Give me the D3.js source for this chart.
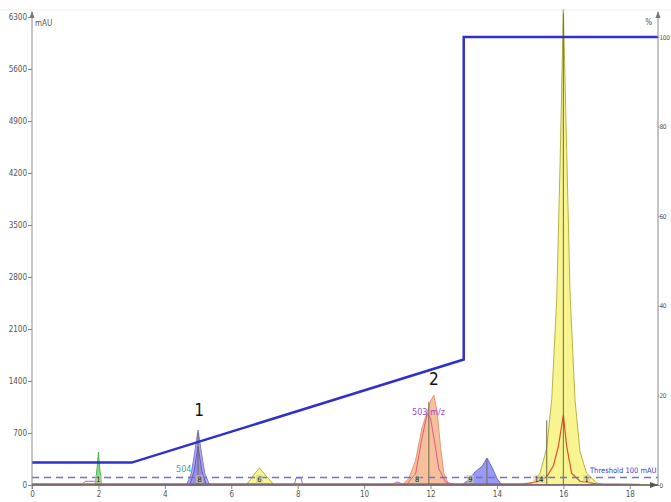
<!DOCTYPE html>
<html>
<head>
<meta charset="utf-8">
<script src="https://cdn.jsdelivr.net/npm/d3@7"></script>
<style>
  body { margin: 0; background: #fff; }
  svg { display: block; }
  text { font-family: "DejaVu Sans Condensed", "DejaVu Sans", sans-serif; }
</style>
</head>
<body>
<svg id="chart" width="671" height="502"></svg>
<script>
// Axis ticks
const timeTicks = [0, 2, 4, 6, 8, 10, 12, 14, 16, 18];
const mauTicks = [0, 700, 1400, 2100, 2800, 3500, 4200, 4900, 5600, 6300];
const pctTicks = [0, 20, 40, 60, 80, 100];

// Gradient programme (time in min, % B)
const gradTime = [0, 3, 13, 13, 18.85];
const gradPct  = [5, 5, 28, 100, 100];

// UV traces: [time, mAU]
const yellowTrace = [[0,0],[6.45,0],[6.65,120],[6.85,230],[7.05,120],[7.3,0],[14.9,0],[15.1,40],[15.3,160],[15.5,500],[15.65,1150],[15.8,2500],[15.9,4300],[16.0,6400],[16.1,4500],[16.2,2600],[16.35,1150],[16.5,450],[16.7,160],[17.0,30],[17.3,0],[18.85,0]];
const lavenderTrace = [[4.65,0],[4.8,160],[4.9,440],[5.0,740],[5.1,440],[5.2,160],[5.35,0]];
const violetTrace = [[4.75,0],[4.88,180],[5.0,520],[5.12,180],[5.25,0]];
const greenTrace = [[1.9,0],[1.96,220],[2.0,444],[2.04,220],[2.1,0]];
const orangeTrace = [[11.15,0],[11.35,90],[11.55,330],[11.75,780],[11.9,980],[12.0,1130],[12.1,1210],[12.2,980],[12.3,520],[12.4,160],[12.55,0]];
const blueTrace = [[12.95,0],[13.15,70],[13.35,180],[13.55,250],[13.7,363],[13.85,240],[14.0,90],[14.15,0]];
const pinkLine = [[11.3,20],[11.55,150],[11.75,650],[11.9,960],[12.0,900],[12.1,640],[12.25,220],[12.45,40],[12.7,10]];
const redLine = [[0,15],[14.8,15],[15.2,40],[15.5,110],[15.7,260],[15.85,520],[16.0,942],[16.1,520],[16.25,160],[16.5,50],[17.0,15],[18.3,10]];
const msLine = [[0,5],[1.5,5],[1.6,50],[1.95,50],[2.0,5],[7.9,5],[7.95,95],[8.1,95],[8.15,5],[10.8,5],[11.0,40],[11.2,5],[18.3,5]];

// Fraction cut lines [time, top mAU] and labels [time, text]
const cutLines = [[5.0, 700], [11.95, 1120], [13.7, 350], [15.5, 870], [16.0, 6350]];
const fracLabels = [[2.0, "1"], [5.05, "8"], [6.85, "6"], [11.6, "8"], [13.2, "9"], [15.2, "14"], [16.7, "1"]];

const threshold = 100;

const svg = d3.select("#chart");
const x = d3.scaleLinear().domain([0, 18.85]).range([32, 658]);
const yL = d3.scaleLinear().domain([0, 6300]).range([485, 17]);
const yR = d3.scaleLinear().domain([0, 100]).range([485, 37]);

// faint frame line at top
svg.append("line").attr("x1", 0).attr("x2", 671).attr("y1", 10).attr("y2", 10)
  .attr("stroke", "#f0efe6").attr("stroke-width", 1);

const area = d3.area().x(d => x(d[0])).y0(yL(0)).y1(d => yL(d[1]));
const line = d3.line().x(d => x(d[0])).y(d => yL(d[1]));

function fillPeak(data, fill, stroke, op) {
  svg.append("path").datum(data).attr("d", area)
    .attr("fill", fill).attr("fill-opacity", op).attr("stroke", stroke).attr("stroke-width", 1);
}
fillPeak(yellowTrace, "#f7f27c", "#b9b24a", 0.85);
fillPeak(lavenderTrace, "#a3a3f2", "#7b7bd8", 0.9);
fillPeak(violetTrace, "#8f78da", "#6d55c0", 0.6);
fillPeak(greenTrace, "#7edc7e", "#4cb44c", 0.9);
fillPeak(orangeTrace, "#f7b892", "#e49a6e", 0.9);
fillPeak(blueTrace, "#8e8ef0", "#6a6ad8", 0.9);

svg.append("path").datum(pinkLine).attr("d", line).attr("fill", "none").attr("stroke", "#d8607a").attr("stroke-width", 1);
svg.append("path").datum(redLine).attr("d", line).attr("fill", "none").attr("stroke", "#d9552a").attr("stroke-width", 1.2);
svg.append("path").datum(msLine).attr("d", line).attr("fill", "none").attr("stroke", "#b060d8").attr("stroke-width", 1);

// fraction cut lines
svg.selectAll(".cut").data(cutLines).join("line")
  .attr("x1", d => x(d[0])).attr("x2", d => x(d[0]))
  .attr("y1", yL(0)).attr("y2", d => yL(d[1]))
  .attr("stroke", "#6b6b4a").attr("stroke-width", 1);

// threshold
svg.append("line").attr("x1", x(0)).attr("x2", x(18.85))
  .attr("y1", yL(threshold)).attr("y2", yL(threshold))
  .attr("stroke", "#7070dc").attr("stroke-width", 1.5).attr("stroke-dasharray", "7,5");
svg.append("text").attr("x", 590).attr("y", yL(threshold) - 5)
  .attr("font-size", 7.5).attr("fill", "#3a3ad0")
  .text("Threshold 100 mAU");

// gradient programme
svg.append("path").datum(d3.zip(gradTime, gradPct))
  .attr("d", d3.line().x(d => x(d[0])).y(d => yR(d[1])))
  .attr("fill", "none").attr("stroke", "#2f2fcf").attr("stroke-width", 2.5);

// fraction labels
const fl = svg.selectAll(".fl").data(fracLabels).join("g")
  .attr("transform", d => `translate(${x(d[0])},${yL(0) - 2})`);
fl.append("rect").attr("x", -3.5).attr("y", -8).attr("width", d => d[1].length * 4.5 + 2.5).attr("height", 8)
  .attr("fill", "#cfcfa0").attr("fill-opacity", 0.6);
fl.append("text").attr("x", -2.2).attr("y", -1.5).attr("font-size", 7.5).attr("fill", "#222").text(d => d[1]);

// axes
const axisColor = "#8a8a8a";
const gL = svg.append("g").attr("transform", `translate(${x(0)},0)`)
  .call(d3.axisLeft(yL).tickValues(mauTicks).tickSize(4).tickPadding(1).tickFormat(d3.format("d")));
const gR = svg.append("g").attr("transform", `translate(${x(18.85)},0)`)
  .call(d3.axisRight(yR).tickValues(pctTicks).tickSize(1.5).tickPadding(0).tickFormat(d3.format("d")));
const gB = svg.append("g").attr("transform", `translate(0,${yL(0)})`)
  .call(d3.axisBottom(x).tickValues(timeTicks).tickSize(4).tickPadding(2).tickFormat(d3.format("d")));
[gL, gR, gB].forEach(g => {
  g.select(".domain").remove();
  g.selectAll("line").attr("stroke", axisColor);
  g.selectAll("text").attr("font-size", 8).attr("fill", "#555");
});
gR.selectAll("text").attr("font-size", 6.5).attr("letter-spacing", "-0.4");
svg.append("line").attr("x1", x(0)).attr("x2", x(0)).attr("y1", yL(0) + 4).attr("y2", 12).attr("stroke", axisColor);
svg.append("line").attr("x1", x(18.85)).attr("x2", x(18.85)).attr("y1", yL(0)).attr("y2", 12).attr("stroke", axisColor);
svg.append("line").attr("x1", x(0)).attr("x2", x(18.85)).attr("y1", yL(0)).attr("y2", yL(0)).attr("stroke", "#6b6b5a").attr("stroke-width", 1.5);
// arrow heads
svg.append("path").attr("d", `M${x(0) - 2.5},18 L${x(0)},11 L${x(0) + 2.5},18 Z`).attr("fill", "#777");
svg.append("path").attr("d", `M${x(18.85) - 2.5},18 L${x(18.85)},11 L${x(18.85) + 2.5},18 Z`).attr("fill", "#777");
svg.append("path").attr("d", `M${x(18.85) - 8},${yL(0) - 3} L${x(18.85)},${yL(0)} L${x(18.85) - 8},${yL(0) + 3} Z`).attr("fill", "#555");

svg.append("text").attr("x", 35).attr("y", 26).attr("font-size", 8).attr("fill", "#555").text("mAU");
svg.append("text").attr("x", 652).attr("y", 25).attr("font-size", 8).attr("fill", "#555").attr("text-anchor", "end").text("%");

// peak annotations
svg.append("text").attr("x", x(5.03)).attr("y", 416).attr("text-anchor", "middle")
  .attr("font-size", 17).attr("font-family", "Liberation Sans, Arial, sans-serif").attr("fill", "#111").text("1");
svg.append("text").attr("x", x(12.1)).attr("y", 385).attr("text-anchor", "middle")
  .attr("font-size", 17).attr("font-family", "Liberation Sans, Arial, sans-serif").attr("fill", "#111").text("2");
svg.append("text").attr("x", 176).attr("y", 472).attr("font-size", 9).attr("fill", "#3aa8a8").text("504");
svg.append("text").attr("x", 412).attr("y", 415).attr("font-size", 9).attr("fill", "#9a4ad8").text("503 m/z");
</script>
</body>
</html>
